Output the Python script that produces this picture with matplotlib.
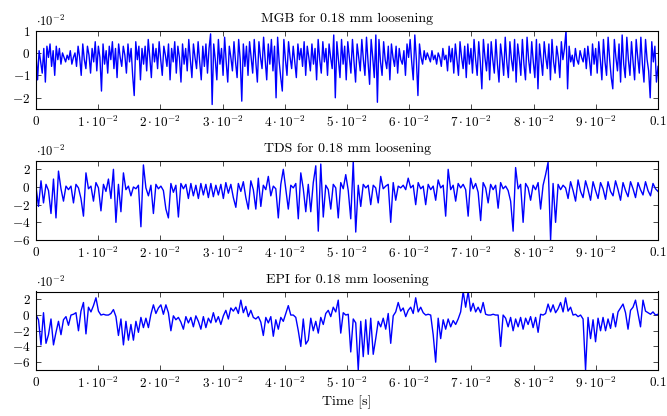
import matplotlib
matplotlib.use("Agg")
import matplotlib.pyplot as plt
import numpy as np

# signals in units of 1e-2 (as shown by the axis multiplier)
mgb = [
    0.0, -1.2, 0.1, -0.4, -0.9, 0.2, -1.3, 0.3, -0.2, 0.4,
    -0.6, 0.1, -1.0, 0.3, -0.3, 0.2, -0.5, 0.0, -0.2, -0.4,
    -0.1, -0.3, 0.1, -0.5, -0.2, 0.0, -0.6, 0.3, -0.2, -1.0,
    0.4, -0.3, -0.7, 0.3, -0.1, -0.9, 0.2, -0.4, 0.5, -0.8,
    0.3, -0.2, -1.7, 0.4, -0.5, 0.1, -0.9, 0.3, -0.3, 0.5,
    -0.7, 0.2, -1.1, 0.4, -0.2, -0.6, 0.3, -0.1, -0.9, 0.4,
    -0.4, 0.2, -1.0, -1.9, 0.5, -0.3, 0.3, -1.2, 0.2, -0.5,
    0.3, -0.8, 0.6, -0.2, -1.1, 0.4, -0.4, 0.2, -0.7, 0.5,
    -0.3, -1.0, 0.3, -0.1, -0.6, 0.4, -1.2, 0.2, -0.4, 0.5,
    -0.9, 0.3, -0.2, -1.3, 0.4, -0.5, 0.2, -0.8, 0.6, -0.3,
    -1.1, 0.4, -0.2, -0.7, 0.5, -0.4, -1.2, 0.3, -0.6, 0.4,
    -0.9, 0.2, 0.85, -2.3, 0.4, -0.3, -1.2, 0.6, -0.5, 0.2,
    -1.0, 0.7, -0.4, -1.3, 0.3, -0.2, -0.8, 0.5, -0.4, -1.1,
    0.6, -0.3, -2.15, 0.4, -0.6, 0.3, -1.0, 0.5, -0.2, -0.9,
    0.6, -0.4, -1.3, 0.5, -0.2, -0.7, 0.7, -0.3, -1.2, 0.4,
    -0.5, 0.6, -0.8, 0.3, -2.0, 0.7, -0.4, -1.1, -1.7, 0.6,
    -0.3, -1.0, 0.5, -0.2, -0.7, 0.3, -0.4, -1.1, 0.4, -0.3,
    0.2, -0.6, 0.5, -1.0, 0.3, -0.2, -0.8, 0.4, -0.5, 0.2,
    -1.2, 0.6, -0.3, -0.9, 0.5, -0.4, 0.2, -1.0, 0.4, -0.2,
    -0.7, 0.8, -2.0, 0.5, -0.3, -1.1, 0.6, -0.5, 0.3, -1.2,
    0.5, -0.2, -0.9, 0.6, -0.4, -1.3, 0.4, -0.2, -0.8, 0.6,
    -0.3, -1.0, 0.7, -0.4, -1.4, 0.6, -0.2, -1.1, 0.8, -2.2,
    0.6, -0.4, -1.0, 0.5, -0.3, -0.7, 0.3, -1.2, 0.4, -0.2,
    -0.6, 0.3, -0.9, 0.2, -0.3, -0.5, 0.1, -1.0, 0.4, -0.2,
    0.6, -0.4, -1.2, 0.8, -0.3, -1.9, 0.4, -0.2, -0.5, 0.1,
    -0.3, 0.0, -0.2, -0.4, 0.1, -0.3, -0.1, -0.5, 0.0, -0.2,
    -0.6, 0.2, -0.3, -0.1, -0.8, 0.3, -0.4, 0.2, -0.9, 0.4,
    -0.3, -1.0, 0.5, -0.2, -0.7, 0.3, -1.1, 0.4, -0.5, 0.2,
    -0.9, 0.6, -0.3, -1.0, 0.5, -0.4, -1.6, 0.6, -0.2, -0.8,
    0.4, -1.2, 0.5, -0.3, -0.9, 0.6, -0.5, -1.3, 0.4, -0.2,
    -1.0, 0.7, -0.4, -1.1, 0.5, -0.3, -0.8, 0.6, -1.3, 0.4,
    -0.2, -1.0, 0.6, -0.5, -1.2, 0.7, -0.3, -0.9, 0.5, -0.4,
    -1.1, 0.6, -1.6, 0.4, -0.3, -1.0, 0.5, -0.2, -0.7, 0.4,
    -1.2, 0.6, -0.4, -0.9, 0.3, -0.2, -1.1, 0.5, -0.3, 0.2,
    1.0, -1.6, 0.3, -0.4, -0.1, -0.6, 0.2, -0.3, -0.5, 0.1,
    -0.2, -0.4, 0.2, -0.7, 0.3, -0.3, -1.0, 0.4, -0.5, 0.2,
    -0.9, 0.5, -0.3, -1.2, 0.6, -0.4, -1.0, 0.7, -0.3, -1.1,
    -1.6, 0.6, -0.2, -0.8, 0.4, -1.3, 0.8, -0.5, -1.1, 0.7,
    -0.3, -1.0, 0.5, -0.4, -1.2, 0.6, -0.2, -0.9, 0.7, -0.5,
    -1.3, 0.6, -0.3, -0.8, -2.0, 0.5, -0.4, 0.3, -1.3, -0.6,
]

tds = [
    0.0, -2.2, 0.7, -1.8, 0.3, -0.4, -3.0, 0.9, -3.5, 1.8,
    -0.2, -1.6, 0.1, -0.3, 0.1, -1.8, 0.3, -0.1, -1.3, -3.3,
    1.6, -0.2, 0.1, -1.6, 0.5, -0.1, -2.7, 0.3, -0.5, 0.9,
    -1.3, 2.0, -4.0, 0.3, -2.8, 1.6, -0.3, 0.1, -1.0, 0.0,
    -0.2, 0.2, -4.5, 2.5, -0.1, -1.0, 0.2, -3.0, 0.3, -0.2,
    0.1, -0.4, -2.5, -3.5, 0.4, -0.6, 0.2, -3.4, 0.4, -0.2,
    0.3, -1.3, 0.4, -1.0, 0.2, -1.3, 0.4, -0.9, 0.3, -1.2,
    0.4, -1.1, 0.2, -0.9, 0.3, -1.3, 0.5, -0.7, 0.3, -1.2,
    -2.3, 0.4, -0.5, 0.6, -1.2, -2.5, 0.7, -0.3, -2.5, 1.0,
    -2.2, 0.2, -0.3, 1.2, -1.0, 0.1, -0.2, -3.5, 0.3, 2.0,
    -0.3, -2.5, 0.2, -0.1, 0.4, -3.6, 1.6, -0.2, -2.8, 0.3,
    -2.8, 0.5, 2.4, -5.0, 2.6, -3.4, 0.2, -0.3, -2.5, 0.3,
    -0.1, -3.5, 0.5, -0.2, 1.4, -0.4, -3.6, 2.9, -5.1, 0.2,
    -2.2, 0.3, -0.1, 0.2, -2.0, 0.2, -0.1, -1.8, 1.2, -0.2,
    0.1, 0.3, -4.0, 0.5, -1.5, 0.1, -0.1, 0.2, -0.3, 1.0,
    -0.1, 0.2, -2.0, 0.5, -0.2, 0.1, -2.0, 0.3, -0.3, 0.1,
    -1.5, 0.8, -0.1, 0.2, -3.3, 2.0, -0.3, 0.2, -1.6, 0.4,
    -0.1, 0.3, -0.3, -3.3, 1.0, -0.2, 0.4, -0.6, -3.8, 0.5,
    -0.1, -1.8, 0.3, -0.3, 0.2, -2.4, 0.5, -0.2, 0.1, -0.4,
    -1.6, -5.0, 2.2, -0.2, 0.3, -4.0, 0.4, -0.1, -1.5, 0.2,
    -0.3, 0.5, -2.5, 0.2, 1.4, 2.8, -6.0, 0.4, -4.0, 0.3,
    -0.3, 0.2, -0.1, -1.3, 0.6, -0.4, -1.6, 0.8, -0.5, -1.2,
    0.7, -0.3, -1.5, 0.6, -0.4, -1.3, 0.5, -0.2, -1.4, 0.6,
    -0.5, -1.0, 0.7, -0.3, -1.5, 0.5, -0.4, -1.1, 0.6, -0.2,
    -1.2, 0.5, -0.3, -0.9, 0.6, -0.4, -1.0, 0.4, -0.2, -0.5,
]

epi = [
    0.0, -0.6, -3.8, 0.3, -3.6, -2.5, -0.5, -3.8, -2.2, -0.8,
    -2.5, -0.6, -0.2, -1.3, 0.0, 0.1, 0.3, -2.0, 0.5, 1.6,
    -2.4, 1.0, 0.4, 1.2, 2.2, 0.5, 0.0, 0.1, 0.0, 0.0,
    0.2, 0.7, -0.2, -2.6, -0.5, -3.8, -0.8, -3.2, -1.2, -3.2,
    -0.8, -2.2, -0.3, -1.6, -0.4, -1.6, 0.1, 1.3, 0.2, 0.9,
    1.3, 0.1, 1.3, 0.3, -2.0, -0.1, -0.6, -0.3, -0.9, -1.8,
    -0.2, -1.0, -0.3, -1.5, -0.1, -0.8, -1.8, -0.2, -1.6, -0.4,
    -1.0, 0.3, -0.9, -0.2, -1.2, -0.1, 0.6, -0.5, 0.9, 0.5,
    1.0, 0.2, 1.9, 0.3, 1.1, -0.2, 0.6, -0.3, -0.5, -0.2,
    -0.9, -2.6, -0.3, -1.0, -0.2, -2.7, -0.6, -1.8, -0.3, -0.8,
    0.2, 1.2, 0.0, 0.0, -0.3, -2.0, -4.0, -0.5, -3.7, -3.2,
    -0.4, -2.0, -0.8, -2.3, -0.3, -1.2, 0.2, 0.6, -0.2, 1.0,
    0.4, 1.9, -2.3, 0.3, 0.0, 0.1, -4.7, -0.5, -1.0, -7.0,
    -0.8, -5.3, -0.6, -5.0, -0.4, -5.0, -3.0, -0.8, -1.5, -0.4,
    -1.8, 0.2, -3.6, -0.1, 0.4, 1.6, 0.5, 0.9, -0.2, 0.6,
    1.0, 0.2, 2.2, 0.4, 1.0, 0.3, 0.0, 0.1, 0.0, -2.5,
    -6.0, -0.4, -3.0, -0.6, -1.8, -0.5, -1.5, -0.7, -1.2, -0.5,
    0.4, 3.0, 1.0, 3.0, 0.5, 1.5, 0.4, 1.0, 0.3, 1.6,
    0.1, 0.0, 0.0, 0.1, 0.0, 0.0, -4.0, 0.0, -0.4, -1.5,
    -0.3, -2.0, -0.5, -1.5, -0.3, -1.8, -0.4, -1.2, -0.2, -1.6,
    -0.3, -2.2, 0.1, 0.0, 0.2, 1.4, 0.4, 1.3, 0.3, 0.8,
    1.6, 0.4, 2.2, 0.5, 1.0, 0.0, 0.1, -0.2, 0.0, -0.5,
    -7.0, -0.3, -3.0, -0.6, -3.4, -0.4, -2.0, -0.3, -2.0, -0.5,
    -1.7, 0.2, -1.5, 0.4, 0.9, 1.4, 0.3, -1.8, 0.6, 1.0,
    1.9, 0.2, -1.5, 1.9, 0.5, 0.3, 0.1, 0.4, 0.0, 0.1,
]

titles = ["MGB for 0.18 mm loosening", "TDS for 0.18 mm loosening", "EPI for 0.18 mm loosening"]
x_ticks = [0, 0.01, 0.02, 0.03, 0.04, 0.05, 0.06, 0.07, 0.08, 0.09, 0.1]
x_ticklabels = ["$0$"] + [rf"${k}\cdot 10^{{-2}}$" for k in range(1, 10)] + ["$0.1$"]
y_ticks = [[1, 0, -1, -2], [2, 0, -2, -4, -6], [2, 0, -2, -4, -6]]
y_limits = [(-2.5, 1), (-6, 3), (-7, 3)]

plt.rcParams["font.family"] = "serif"
plt.rcParams["font.serif"] = ["cmr10"]
plt.rcParams["mathtext.fontset"] = "cm"
plt.rcParams["axes.unicode_minus"] = False

fig = plt.figure(figsize=(6.67, 4.16), dpi=100)
left, width = 36 / 667, 622 / 667
boxes = [(30.5, 109), (160.5, 240), (291.5, 370)]

for k, (sig, title) in enumerate(zip([mgb, tds, epi], titles)):
    top, bot = boxes[k]
    ax = fig.add_axes([left, 1 - bot / 416, width, (bot - top) / 416])
    t = np.linspace(0, 0.1, len(sig))
    ax.plot(t, sig, color="#0000ff", lw=1.0)
    ax.set_xlim(0, 0.1)
    ax.set_ylim(*y_limits[k])
    ax.set_xticks(x_ticks)
    ax.set_xticklabels(x_ticklabels)
    ax.set_yticks(y_ticks[k])
    ax.set_yticklabels([f"${v}$" if v >= 0 else rf"$-{abs(v)}$" for v in y_ticks[k]])
    ax.tick_params(direction="in", top=True, right=True, length=3.5, width=0.5, labelsize=9.5, pad=4)
    for s in ax.spines.values():
        s.set_linewidth(0.8)
    ax.set_title(title, fontsize=10, pad=6)
    ax.text(0.0, 1.02, r"$\cdot 10^{-2}$", transform=ax.transAxes, fontsize=9, ha="left", va="bottom")
    if k == 2:
        ax.set_xlabel("Time [s]", fontsize=10, labelpad=3)

fig.savefig("out.png", dpi=100)
